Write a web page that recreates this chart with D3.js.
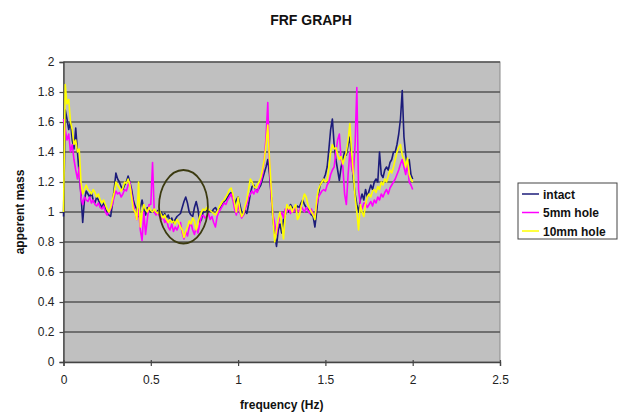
<!DOCTYPE html>
<html><head><meta charset="utf-8">
<script src="https://cdn.jsdelivr.net/npm/d3@7"></script>
<style>body{margin:0;background:#fff;}svg{display:block;font-family:"Liberation Sans",Arial,sans-serif;}</style>
</head><body><svg id="c" width="620" height="414"></svg>
<script>
const title = "FRF GRAPH";
const xTitle = "frequency (Hz)";
const yTitle = "apperent mass";
const xTicks = [0, 0.5, 1, 1.5, 2, 2.5];
const yTicks = [0, 0.2, 0.4, 0.6, 0.8, 1, 1.2, 1.4, 1.6, 1.8, 2];
const seriesNames = ["intact", "5mm hole", "10mm hole"];
const seriesColors = ["#1c1c7a", "#ff00ff", "#ffff00"];
// frequency step 0.01 Hz, 0 .. 2.0
const intact = [
0.97,1.68,1.62,1.55,1.60,1.48,1.42,1.56,1.40,1.25,
1.12,0.93,1.08,1.14,1.12,1.10,1.13,1.08,1.06,1.10,
1.08,1.05,1.03,1.06,1.02,1.00,0.98,0.97,1.05,1.15,
1.26,1.22,1.20,1.17,1.15,1.18,1.20,1.24,1.20,1.15,
1.08,1.04,1.02,0.97,1.03,1.08,1.02,0.98,1.03,1.02,
1.00,1.01,1.00,0.99,1.01,0.98,1.00,0.97,0.99,0.96,
0.98,0.94,0.96,0.93,0.95,0.97,0.98,0.99,1.03,1.07,
1.10,1.06,1.00,0.98,0.97,1.03,1.07,1.02,0.93,0.95,
1.00,1.00,1.01,1.00,1.01,1.00,1.02,1.03,1.01,1.02,
1.03,1.05,1.07,1.08,1.10,1.12,1.13,1.10,1.05,1.08,
1.10,1.05,1.00,0.98,1.01,0.99,1.05,1.12,1.17,1.18,
1.15,1.14,1.16,1.18,1.22,1.26,1.30,1.35,1.25,1.10,
0.95,0.85,0.77,0.88,0.92,0.86,0.95,0.98,1.02,1.00,
1.05,1.03,1.00,1.02,1.04,1.03,1.06,1.08,1.05,1.03,
1.02,1.00,0.98,0.97,0.90,1.00,1.12,1.18,1.20,1.22,
1.25,1.30,1.42,1.55,1.62,1.45,1.35,1.28,1.21,1.30,
1.35,1.40,1.38,1.45,1.50,1.35,1.22,1.12,1.05,1.00,
1.08,1.12,1.08,1.15,1.10,1.14,1.18,1.15,1.20,1.22,
1.20,1.40,1.25,1.23,1.28,1.30,1.28,1.33,1.35,1.40,
1.40,1.45,1.52,1.62,1.81,1.50,1.38,1.30,1.35,1.25,
1.22];
const hole5 = [
1.62,1.55,1.48,1.52,1.40,1.45,1.35,1.28,1.22,1.30,
1.10,1.05,1.10,1.08,1.07,1.10,1.06,1.08,1.05,1.04,
1.06,1.03,1.02,1.04,1.00,0.98,1.00,1.02,1.05,1.10,
1.14,1.12,1.13,1.10,1.12,1.15,1.14,1.18,1.20,1.12,
1.05,1.00,0.95,1.02,0.88,0.81,1.00,0.85,0.95,1.05,
1.05,1.33,1.00,0.98,1.00,0.97,0.95,0.97,0.93,0.95,
0.90,0.88,0.92,0.87,0.90,0.88,0.91,0.93,0.86,0.82,
0.87,0.84,0.90,0.93,0.88,0.85,0.90,0.86,0.92,0.97,
0.98,0.96,0.97,0.99,0.95,0.97,0.93,0.90,0.97,1.00,
1.02,1.04,1.06,1.05,1.08,1.10,1.12,1.08,1.02,0.98,
1.05,1.00,0.96,0.98,1.02,1.05,1.10,1.12,1.14,1.12,
1.15,1.13,1.17,1.20,1.25,1.35,1.50,1.73,1.30,1.10,
0.98,0.92,0.85,0.92,0.97,1.00,0.96,1.02,1.00,1.03,
0.99,1.02,1.00,1.03,1.01,1.00,1.04,1.02,1.00,1.03,
1.01,0.99,1.02,0.98,0.97,1.05,1.10,1.12,1.14,1.15,
1.14,1.18,1.20,1.25,1.28,1.30,1.40,1.48,1.52,1.35,
1.30,1.12,1.05,1.25,1.40,1.30,1.25,1.45,1.83,1.15,
1.05,1.02,1.06,1.06,1.03,1.05,1.07,1.04,1.08,1.06,
1.10,1.08,1.12,1.10,1.13,1.15,1.12,1.16,1.18,1.20,
1.22,1.25,1.28,1.32,1.35,1.30,1.25,1.32,1.20,1.18,
1.15];
const hole10 = [
1.00,1.85,1.72,1.75,1.60,1.55,1.45,1.48,1.40,1.42,
1.20,1.12,1.15,1.18,1.15,1.14,1.12,1.15,1.13,1.10,
1.12,1.08,1.06,1.08,1.05,1.02,1.00,1.03,1.08,1.13,
1.20,1.18,1.16,1.14,1.16,1.20,1.19,1.22,1.18,1.10,
1.02,1.00,0.95,1.20,0.90,1.00,1.05,1.02,1.00,1.03,
1.01,1.00,1.02,1.00,0.99,1.01,0.98,0.96,0.98,0.95,
0.93,0.95,0.93,0.94,0.92,0.95,0.93,0.90,0.88,0.83,
0.87,0.90,0.94,0.92,0.96,0.94,0.88,0.93,0.97,1.00,
1.02,1.01,1.03,1.02,1.01,1.00,0.99,0.98,1.00,1.03,
1.05,1.07,1.08,1.10,1.12,1.15,1.16,1.12,1.06,1.00,
1.10,1.02,0.97,0.99,1.04,1.08,1.15,1.22,1.20,1.17,
1.16,1.18,1.20,1.23,1.28,1.35,1.45,1.58,1.35,1.15,
0.95,0.80,0.88,0.95,1.00,0.92,0.82,0.98,1.05,1.02,
1.04,1.00,1.03,1.05,0.95,0.97,1.03,1.08,1.12,1.10,
1.05,1.02,1.00,0.98,0.95,1.08,1.15,1.18,1.20,1.22,
1.20,1.21,1.30,1.40,1.45,1.42,1.43,1.38,1.35,1.37,
1.32,1.36,1.40,1.48,1.59,1.40,1.26,1.10,1.00,0.88,
1.05,1.00,0.97,1.05,1.10,1.12,1.10,1.14,1.15,1.13,
1.17,1.15,1.20,1.18,1.22,1.20,1.24,1.28,1.26,1.30,
1.35,1.40,1.43,1.45,1.38,1.35,1.30,1.36,1.25,1.22,
1.20];
const freqStep = 0.01;
// highlight ellipse: centre (freq, mass) and radii in data units
const ellipseCenter = [0.687, 1.035];
const ellipseRadii = [0.14, 0.245];

const svg = d3.select("#c");
const m = {l: 63.5, r: 500, t: 62, b: 362};
const x = d3.scaleLinear().domain([0, 2.5]).range([m.l, m.r]);
const y = d3.scaleLinear().domain([0, 2]).range([m.b, m.t]);

svg.append("rect").attr("x", m.l).attr("y", m.t).attr("width", m.r - m.l).attr("height", m.b - m.t)
  .attr("fill", "#c0c0c0").attr("stroke", "#8a8a8a").attr("stroke-width", 1);

svg.append("g").selectAll("line").data(yTicks.filter(d => d > 0)).join("line")
  .attr("x1", m.l).attr("x2", m.r).attr("y1", d => y(d)).attr("y2", d => y(d))
  .attr("stroke", "#555").attr("stroke-width", 1.6);

const yAxis = svg.append("g").attr("transform", `translate(${m.l},0)`)
  .call(d3.axisLeft(y).tickValues(yTicks).tickFormat(d3.format("~g")).tickSize(4).tickPadding(5));
const xAxis = svg.append("g").attr("transform", `translate(0,${m.b})`)
  .call(d3.axisBottom(x).tickValues(xTicks).tickFormat(d3.format("~g")).tickSize(4).tickPadding(9));
[yAxis, xAxis].forEach(a => {
  a.select(".domain").attr("stroke", "#444").attr("stroke-width", 1.3);
  a.selectAll(".tick line").attr("stroke", "#444").attr("stroke-width", 1.2);
  a.selectAll("text").attr("font-size", 12).attr("fill", "#222").attr("font-family", "Liberation Sans, Arial, sans-serif");
});
xAxis.selectAll(".tick line").attr("y1", -2);

const line = d3.line().x((d, i) => x(i * freqStep)).y(d => y(d));
[intact, hole5, hole10].forEach((s, k) => {
  svg.append("path").datum(s).attr("d", line).attr("fill", "none")
    .attr("stroke", seriesColors[k]).attr("stroke-width", 1.6).attr("stroke-linejoin", "round");
});

svg.append("ellipse")
  .attr("cx", x(ellipseCenter[0])).attr("cy", y(ellipseCenter[1]))
  .attr("rx", x(ellipseRadii[0]) - x(0)).attr("ry", y(0) - y(ellipseRadii[1]))
  .attr("fill", "none").attr("stroke", "#3b3a10").attr("stroke-width", 1.8);

svg.append("text").attr("x", 311).attr("y", 25).attr("text-anchor", "middle")
  .attr("font-weight", "bold").attr("font-size", 14).attr("fill", "#111").text(title);
svg.append("text").attr("x", (m.l + m.r) / 2).attr("y", 409).attr("text-anchor", "middle")
  .attr("font-weight", "bold").attr("font-size", 12).attr("fill", "#111").text(xTitle);
svg.append("text").attr("transform", `translate(24,${(m.t + m.b) / 2}) rotate(-90)`).attr("text-anchor", "middle")
  .attr("font-weight", "bold").attr("font-size", 12).attr("fill", "#111").text(yTitle);

const lg = svg.append("g");
lg.append("rect").attr("x", 518).attr("y", 183).attr("width", 99).attr("height", 56)
  .attr("fill", "#fff").attr("stroke", "#444").attr("stroke-width", 1);
seriesNames.forEach((n, k) => {
  const yy = 194 + k * 18.5;
  lg.append("line").attr("x1", 522).attr("x2", 539).attr("y1", yy).attr("y2", yy)
    .attr("stroke", seriesColors[k]).attr("stroke-width", 1.5);
  lg.append("text").attr("x", 543).attr("y", yy + 4.5).attr("font-weight", "bold")
    .attr("font-size", 12).attr("fill", "#111").text(n);
});
</script></body></html>
